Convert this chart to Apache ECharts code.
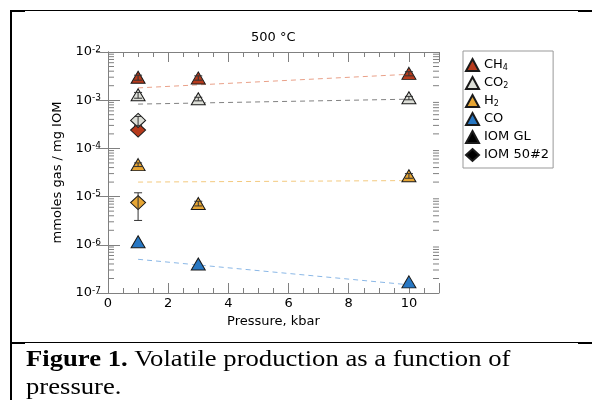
<!DOCTYPE html>
<html>
<head>
<meta charset="utf-8">
<script src="https://cdn.jsdelivr.net/npm/echarts@6/dist/echarts.min.js"></script>
<style>
  html, body { margin: 0; padding: 0; background: #fff; }
  #chart { width: 592px; height: 400px; }
</style>
</head>
<body>
<div id="chart"></div>
<script>
// pressure (kbar) of the IOM GL runs and of the IOM 50#2 run
const pressGL = [1, 3, 10]
const press50 = [1]
// mmoles gas / mg IOM, IOM GL (triangles)
const ch4GL = [3.0e-3, 2.9e-3, 3.6e-3]
const co2GL = [1.3e-3, 1.07e-3, 1.12e-3]
const h2GL = [4.6e-5, 7.2e-6, 2.7e-5]
const coGL = [1.16e-6, 4.0e-7, 1.7e-7]
// IOM 50#2 (diamonds), no CO
const ch450 = [2.4e-4]
const co250 = [3.8e-4]
const h250 = [7.5e-6]
// error bars [low, high]
const ch4GLErr = [[2.6e-3, 3.3e-3], [2.6e-3, 3.2e-3], [3.2e-3, 3.9e-3]]
const co2GLErr = [[1.1e-3, 1.45e-3], [0.97e-3, 1.15e-3], [1.02e-3, 1.2e-3]]
const h2GLErr = [[4.2e-5, 5.0e-5], [6.4e-6, 8.0e-6], [2.4e-5, 3.0e-5]]
const co250Err = [[3.0e-4, 4.6e-4]]
const h250Err = [[3.2e-6, 1.2e-5]]
// dashed trend lines, end points at 1 and 10 kbar
const fitX = [1, 10]
const ch4Fit = [1.8e-3, 3.45e-3]
const co2Fit = [8.3e-4, 1.05e-3]
const h2Fit = [2.0e-5, 2.15e-5]
const coFit = [5.0e-7, 1.48e-7]
// log axis ticks
const decades = [-7, -6, -5, -4, -3, -2]
const minorMult = [2, 3, 4, 5, 6, 7, 8, 9]

const FONT = 'DejaVu Sans'
const AXIS_GREY = '#808080'
const EDGE = '#1a1a1a'
const colors = {CH4: '#b63a1c', CO2: '#dddfd8', H2: '#e6a533', CO: '#2777c3'}
const fitColors = {CH4: '#e9a088', CO2: '#808080', H2: '#f3c97e', CO: '#8ab7e6'}

const pairs = (xs, ys) => xs.map((x, i) => [x, ys[i]])
const errRows = (xs, errs) => xs.map((x, i) => [x, errs[i][0], errs[i][1]])

const minorTicks = []
decades.slice(0, -1).forEach(d => {
  minorMult.forEach(m => minorTicks.push([0, m * Math.pow(10, d)]))
})

const chart = echarts.init(document.getElementById('chart'))

const fitSeries = (name, ys) => ({
  name: name + ' fit',
  type: 'line',
  data: pairs(fitX, ys),
  symbol: 'none',
  silent: true,
  lineStyle: {color: fitColors[name], width: 1, type: [5, 4]},
  z: 2
})

const markSeries = (name, xs, ys, symbol, size) => ({
  name: name,
  type: 'scatter',
  data: pairs(xs, ys),
  symbol: symbol,
  symbolSize: size,
  itemStyle: {color: colors[name] || '#000', borderColor: EDGE, borderWidth: 1, opacity: 1},
  z: 3
})

const errSeries = (xs, errs) => ({
  type: 'custom',
  data: errRows(xs, errs),
  silent: true,
  z: 4,
  renderItem: (params, api) => {
    const lo = api.coord([api.value(0), api.value(1)])
    const hi = api.coord([api.value(0), api.value(2)])
    const w = 4
    const st = {stroke: '#333', lineWidth: 1}
    return {
      type: 'group',
      children: [
        {type: 'line', shape: {x1: lo[0], y1: lo[1], x2: hi[0], y2: hi[1]}, style: st},
        {type: 'line', shape: {x1: lo[0] - w, y1: lo[1], x2: lo[0] + w, y2: lo[1]}, style: st},
        {type: 'line', shape: {x1: hi[0] - w, y1: hi[1], x2: hi[0] + w, y2: hi[1]}, style: st}
      ]
    }
  }
})

const subLabels = {CH4: 'CH{s|4}', CO2: 'CO{s|2}', H2: 'H{s|2}', CO: 'CO', 'IOM GL': 'IOM GL', 'IOM 50#2': 'IOM 50#2'}

const option = {
  animation: false,
  textStyle: {fontFamily: FONT},
  title: {
    text: '500 °C',
    left: 251,
    top: 31,
    padding: 0,
    textStyle: {fontFamily: FONT, fontSize: 13, fontWeight: 'normal', color: '#000'}
  },
  legend: {
    orient: 'vertical',
    left: 463,
    top: 51,
    padding: [7, 4, 6, 2],
    itemWidth: 13,
    itemHeight: 12,
    itemGap: 4,
    borderColor: '#999',
    borderWidth: 1,
    selectedMode: false,
    data: [
      {name: 'CH4', icon: 'triangle'},
      {name: 'CO2', icon: 'triangle'},
      {name: 'H2', icon: 'triangle'},
      {name: 'CO', icon: 'triangle'},
      {name: 'IOM GL', icon: 'triangle'},
      {name: 'IOM 50#2', icon: 'diamond'}
    ],
    formatter: name => subLabels[name],
    textStyle: {
      fontFamily: FONT, fontSize: 13, color: '#000', lineHeight: 14,
      rich: {s: {fontFamily: FONT, fontSize: 8, lineHeight: 7, verticalAlign: 'bottom'}}
    }
  },
  grid: {left: 108, top: 52, right: 153, bottom: 107},
  xAxis: [{
    type: 'value',
    min: 0,
    max: 11,
    interval: 2,
    name: 'Pressure, kbar',
    nameLocation: 'middle',
    nameGap: 17,
    nameTextStyle: {fontFamily: FONT, fontSize: 13, color: '#000'},
    axisLine: {lineStyle: {color: AXIS_GREY}},
    axisTick: {inside: true, length: 10, lineStyle: {color: AXIS_GREY}},
    minorTick: {show: true, splitNumber: 4, length: 5, lineStyle: {color: AXIS_GREY}},
    axisLabel: {fontFamily: FONT, fontSize: 13, color: '#000', margin: 4, showMaxLabel: false},
    splitLine: {show: false}
  }, {
    type: 'value',
    position: 'top',
    min: 0,
    max: 11,
    interval: 2,
    axisLine: {lineStyle: {color: AXIS_GREY}},
    axisTick: {inside: true, length: 10, lineStyle: {color: AXIS_GREY}},
    minorTick: {show: true, splitNumber: 4, length: 5, lineStyle: {color: AXIS_GREY}},
    axisLabel: {show: false},
    splitLine: {show: false}
  }],
  yAxis: [{
    type: 'log',
    logBase: 10,
    min: 1e-7,
    max: 1e-2,
    name: 'mmoles gas / mg IOM',
    nameLocation: 'middle',
    nameGap: 32,
    nameTextStyle: {fontFamily: FONT, fontSize: 13, color: '#000'},
    axisLine: {lineStyle: {color: AXIS_GREY}},
    axisTick: {inside: true, length: 12, lineStyle: {color: AXIS_GREY}},
    axisLabel: {
      margin: 7,
      formatter: v => '{b|10}{e|' + Math.round(Math.log10(v)) + '}',
      rich: {
        b: {fontFamily: FONT, fontSize: 13, color: '#000', lineHeight: 14},
        e: {fontFamily: FONT, fontSize: 9, color: '#000', lineHeight: 4, verticalAlign: 'top'}
      }
    },
    splitLine: {show: false}
  }, {
    type: 'log',
    logBase: 10,
    min: 1e-7,
    max: 1e-2,
    position: 'right',
    axisLine: {lineStyle: {color: AXIS_GREY}},
    axisTick: {inside: true, length: 12, lineStyle: {color: AXIS_GREY}},
    axisLabel: {show: false},
    splitLine: {show: false}
  }],
  series: [
    {
      // minor log ticks on left and right frame
      type: 'custom',
      data: minorTicks,
      silent: true,
      clip: false,
      z: 1,
      renderItem: (params, api) => {
        const l = api.coord([0, api.value(1)])
        const r = api.coord([11, api.value(1)])
        const st = {stroke: AXIS_GREY, lineWidth: 1}
        return {
          type: 'group',
          children: [
            {type: 'line', shape: {x1: l[0], y1: l[1], x2: l[0] + 6, y2: l[1]}, style: st},
            {type: 'line', shape: {x1: r[0], y1: r[1], x2: r[0] - 6, y2: r[1]}, style: st}
          ]
        }
      }
    },
    fitSeries('CH4', ch4Fit),
    fitSeries('CO2', co2Fit),
    fitSeries('H2', h2Fit),
    fitSeries('CO', coFit),
    markSeries('CH4', pressGL, ch4GL, 'triangle', [14, 12]),
    markSeries('CO2', pressGL, co2GL, 'triangle', [14, 12]),
    markSeries('H2', pressGL, h2GL, 'triangle', [14, 12]),
    markSeries('CO', pressGL, coGL, 'triangle', [14, 12]),
    Object.assign(markSeries('CH4', press50, ch450, 'diamond', [15, 14]), {name: 'CH4 50#2'}),
    Object.assign(markSeries('CO2', press50, co250, 'diamond', [15, 14]), {name: 'CO2 50#2'}),
    Object.assign(markSeries('H2', press50, h250, 'diamond', [15, 14]), {name: 'H2 50#2'}),
    errSeries(pressGL, ch4GLErr),
    errSeries(pressGL, co2GLErr),
    errSeries(pressGL, h2GLErr),
    errSeries(press50, co250Err),
    errSeries(press50, h250Err),
    markSeries('IOM GL', [], [], 'triangle', [14, 12]),
    markSeries('IOM 50#2', [], [], 'diamond', [15, 14])
  ],
  graphic: [
    // table cell frame around the figure
    {type: 'line', shape: {x1: 10, y1: 10.5, x2: 592, y2: 10.5}, style: {stroke: '#000', lineWidth: 1}},
    {type: 'rect', shape: {x: 10, y: 10, width: 15, height: 2}, style: {fill: '#000'}},
    {type: 'rect', shape: {x: 578, y: 10, width: 14, height: 2}, style: {fill: '#000'}},
    {type: 'rect', shape: {x: 10, y: 10, width: 2, height: 390}, style: {fill: '#000'}},
    {type: 'line', shape: {x1: 10, y1: 342.5, x2: 592, y2: 342.5}, style: {stroke: '#000', lineWidth: 1}},
    {type: 'rect', shape: {x: 10, y: 342, width: 15, height: 2}, style: {fill: '#000'}},
    {type: 'rect', shape: {x: 578, y: 342, width: 14, height: 2}, style: {fill: '#000'}},
    {
      // caption, set a little wider than the font's natural width
      type: 'text',
      x: 26,
      y: 372,
      scaleX: 1.11,
      style: {
        text: '{b|Figure 1.} Volatile production as a function of',
        fontFamily: 'Liberation Serif',
        fontSize: 24,
        fill: '#000',
        verticalAlign: 'bottom',
        rich: {b: {fontFamily: 'Liberation Serif', fontSize: 24, fontWeight: 'bold'}}
      }
    },
    {
      type: 'text',
      x: 26,
      y: 400,
      scaleX: 1.11,
      style: {
        text: 'pressure.',
        fontFamily: 'Liberation Serif',
        fontSize: 24,
        fill: '#000',
        verticalAlign: 'bottom'
      }
    }
  ]
}

chart.setOption(option)
</script>
</body>
</html>
